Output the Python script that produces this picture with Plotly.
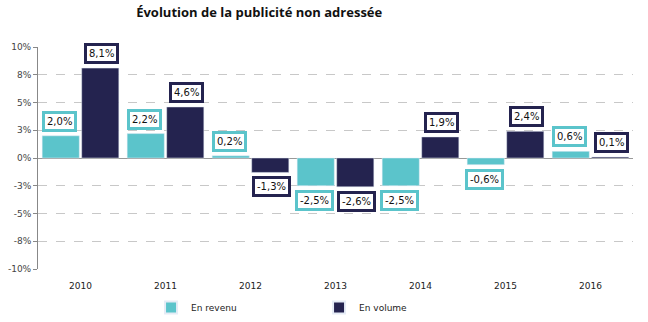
import plotly.graph_objects as go

years = ["2010", "2011", "2012", "2013", "2014", "2015", "2016"]
revenu = [2.0, 2.2, 0.2, -2.5, -2.5, -0.6, 0.6]
volume = [8.1, 4.6, -1.3, -2.6, 1.9, 2.4, 0.1]
ytick_vals = [-10, -7.5, -5, -2.5, 0, 2.5, 5, 7.5, 10]
ytick_text = ["-10%", "-8%", "-5%", "-3%", "0%", "3%", "5%", "8%", "10%"]

c_rev = "#5BC4CB"
c_vol = "#24234F"

fig = go.Figure()
fig.add_bar(x=years, y=revenu, name="En revenu", marker_color=c_rev)
fig.add_bar(x=years, y=volume, name="En volume", marker_color=c_vol)

def fmt(v):
    return ("%.1f%%" % v).replace(".", ",")

anns = []
for vals, col, shift in [(revenu, c_rev, -21), (volume, c_vol, 21)]:
    for i, v in enumerate(vals):
        anns.append(dict(
            x=i, y=v, xref="x", yref="y", text=fmt(v), showarrow=False,
            xshift=shift, yshift=4 if v >= 0 else -4,
            yanchor="bottom" if v >= 0 else "top",
            bgcolor="white", bordercolor=col, borderwidth=3, borderpad=2,
            font=dict(family="DejaVu Sans", size=10, color="#111111"),
        ))

n = len(years)
fig.update_layout(
    width=648, height=322,
    margin=dict(l=38, r=15, t=47, b=53, autoexpand=False),
    paper_bgcolor="white", plot_bgcolor="white",
    barmode="group", bargap=0.07, bargroupgap=0.06,
    title=dict(text="<b>Évolution de la publicité non adressée</b>",
               x=0.4, xanchor="center", y=0.96, yanchor="middle",
               font=dict(family="Open Sans", size=13, color="#111111")),
    annotations=anns,
    showlegend=True,
    legend=dict(orientation="h", x=0.19, xanchor="left",
                yref="container", y=0.045, yanchor="middle",
                entrywidth=123, entrywidthmode="pixels",
                font=dict(family="DejaVu Sans", size=9, color="#222222"),
                itemsizing="constant"),
    xaxis2=dict(overlaying="x", anchor="free", position=0.5, range=[-0.5, n - 0.5],
                tickmode="array", tickvals=[i - 0.5 for i in range(n + 1)],
                ticks="outside", ticklen=4, tickcolor="#999999",
                showticklabels=False, showgrid=False, zeroline=False, showline=False),
)
fig.update_yaxes(range=[-10, 10], tickvals=ytick_vals, ticktext=ytick_text,
                 showgrid=True, gridcolor="#C8C8C8", griddash="dash", gridwidth=1,
                 zeroline=True, zerolinecolor="#999999", zerolinewidth=1,
                 showline=True, linecolor="#888888", linewidth=1,
                 ticks="outside", ticklen=4, tickcolor="#888888",
                 tickfont=dict(family="DejaVu Sans", size=9, color="#444444"))
fig.update_xaxes(selector=dict(anchor="y"), type="category", range=[-0.5, n - 0.5],
                 showgrid=False, showline=False, ticks="", ticklabelstandoff=10,
                 tickfont=dict(family="DejaVu Sans", size=9, color="#222222"))
fig.layout.xaxis.update(type="category", range=[-0.5, n - 0.5],
                        showgrid=False, showline=False, ticks="", ticklabelstandoff=10,
                        tickfont=dict(family="DejaVu Sans", size=9, color="#222222"))

fig.write_html("out.html")
